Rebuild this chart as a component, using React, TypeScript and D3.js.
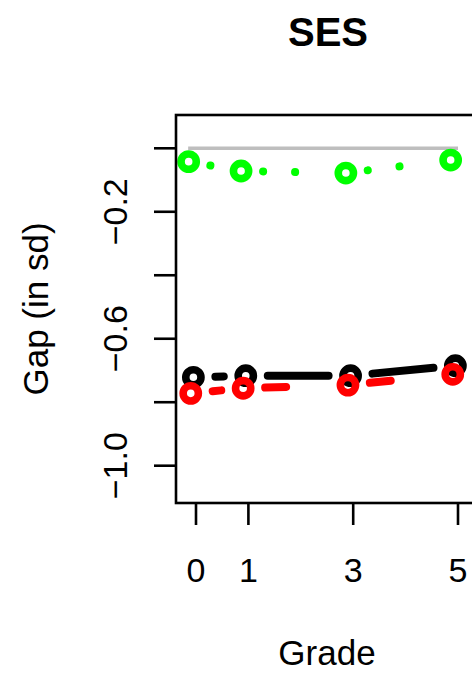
import React from 'react'
import * as d3 from 'd3'

// grades on the x axis
const grades = [0, 1, 3, 5]
const yTicks = [0, -0.2, -0.4, -0.6, -0.8, -1.0]
const yLabels = [-0.2, -0.6, -1.0]

// gap values per group
const greenGap = [-0.042, -0.0715, -0.078, -0.037]
const blackGap = [-0.7215, -0.7165, -0.7165, -0.685]
const redGap = [-0.772, -0.756, -0.746, -0.712]
const refX = [-0.15, 5]
const refGap = [0, 0]

const W = 472
const H = 675
const box = { left: 176, right: 478, top: 115, bottom: 503 }

const x = d3.scaleLinear().domain([0, 5]).range([196, 458])
const y = d3.scaleLinear().domain([-1, 0]).range([465.7, 148.3])

const FONT = '"Liberation Sans", Arial, Helvetica, sans-serif'
const GAP = 22

// R style type="b": segments between points, cut short around each point
function segments(xs: number[], ys: number[]) {
  const out: [number, number, number, number][] = []
  for (let i = 0; i < xs.length - 1; i++) {
    const x0 = x(xs[i]), y0 = y(ys[i])
    const x1 = x(xs[i + 1]), y1 = y(ys[i + 1])
    const len = Math.hypot(x1 - x0, y1 - y0)
    if (len <= 2 * GAP) continue
    const ux = (x1 - x0) / len, uy = (y1 - y0) / len
    out.push([x0 + ux * GAP, y0 + uy * GAP, x1 - ux * GAP, y1 - uy * GAP])
  }
  return out
}

function Series(props: { vals: number[]; offset: number; color: string; dash?: string }) {
  const xs = grades.map(g => g + props.offset)
  const line = d3.line()
  return (
    <g>
      {segments(xs, props.vals).map((s, i) => (
        <path key={'s' + i}
          d={line([[s[0], s[1]], [s[2], s[3]]]) || ''}
          stroke={props.color} strokeWidth={8} strokeLinecap='round'
          strokeDasharray={props.dash} fill='none' />
      ))}
      {xs.map((g, i) => (
        <circle key={'c' + i} cx={x(g)} cy={y(props.vals[i])} r={7.6}
          fill='none' stroke={props.color} strokeWidth={7.6} />
      ))}
    </g>
  )
}

export default function App() {
  const refLine = d3.line<number>()
    .x((d, i) => x(refX[i]))
    .y(d => y(d))
  return (
    <svg width={W} height={H} style={{ position: 'absolute', left: 0, top: 0, background: '#fff' }}
      fontFamily={FONT}>
      {/* title */}
      <text x={328} y={46} textAnchor='middle' fontSize={40} fontWeight='bold'>SES</text>

      {/* reference line at 0 */}
      <path d={refLine(refGap) || ''} stroke='#bebebe' strokeWidth={3.5} fill='none' />

      <Series vals={greenGap} offset={-0.14} color='#00ff00' dash='0.1 31.9' />
      <Series vals={blackGap} offset={-0.05} color='#000000' />
      <Series vals={redGap} offset={-0.1} color='#ff0000' dash='21 43' />

      {/* box */}
      <rect x={box.left} y={box.top} width={box.right - box.left} height={box.bottom - box.top}
        fill='none' stroke='#000' strokeWidth={2.6} />

      {/* y axis */}
      {yTicks.map(t => (
        <line key={'yt' + t} x1={box.left - 22} x2={box.left} y1={y(t)} y2={y(t)}
          stroke='#000' strokeWidth={2.6} />
      ))}
      {yLabels.map(t => (
        <text key={'yl' + t} transform={`translate(127,${y(t)}) rotate(-90)`}
          textAnchor='middle' fontSize={34}>{d3.format('.1f')(t).replace('-', '\u2212')}</text>
      ))}
      <text transform={`translate(48,${(box.top + box.bottom) / 2}) rotate(-90)`}
        textAnchor='middle' fontSize={35}>Gap (in sd)</text>

      {/* x axis */}
      {grades.map(g => (
        <line key={'xt' + g} x1={x(g)} x2={x(g)} y1={box.bottom} y2={box.bottom + 22}
          stroke='#000' strokeWidth={2.6} />
      ))}
      {grades.map(g => (
        <text key={'xl' + g} x={x(g)} y={582} textAnchor='middle' fontSize={34}>{g}</text>
      ))}
      <text x={327} y={665} textAnchor='middle' fontSize={35}>Grade</text>
    </svg>
  )
}
